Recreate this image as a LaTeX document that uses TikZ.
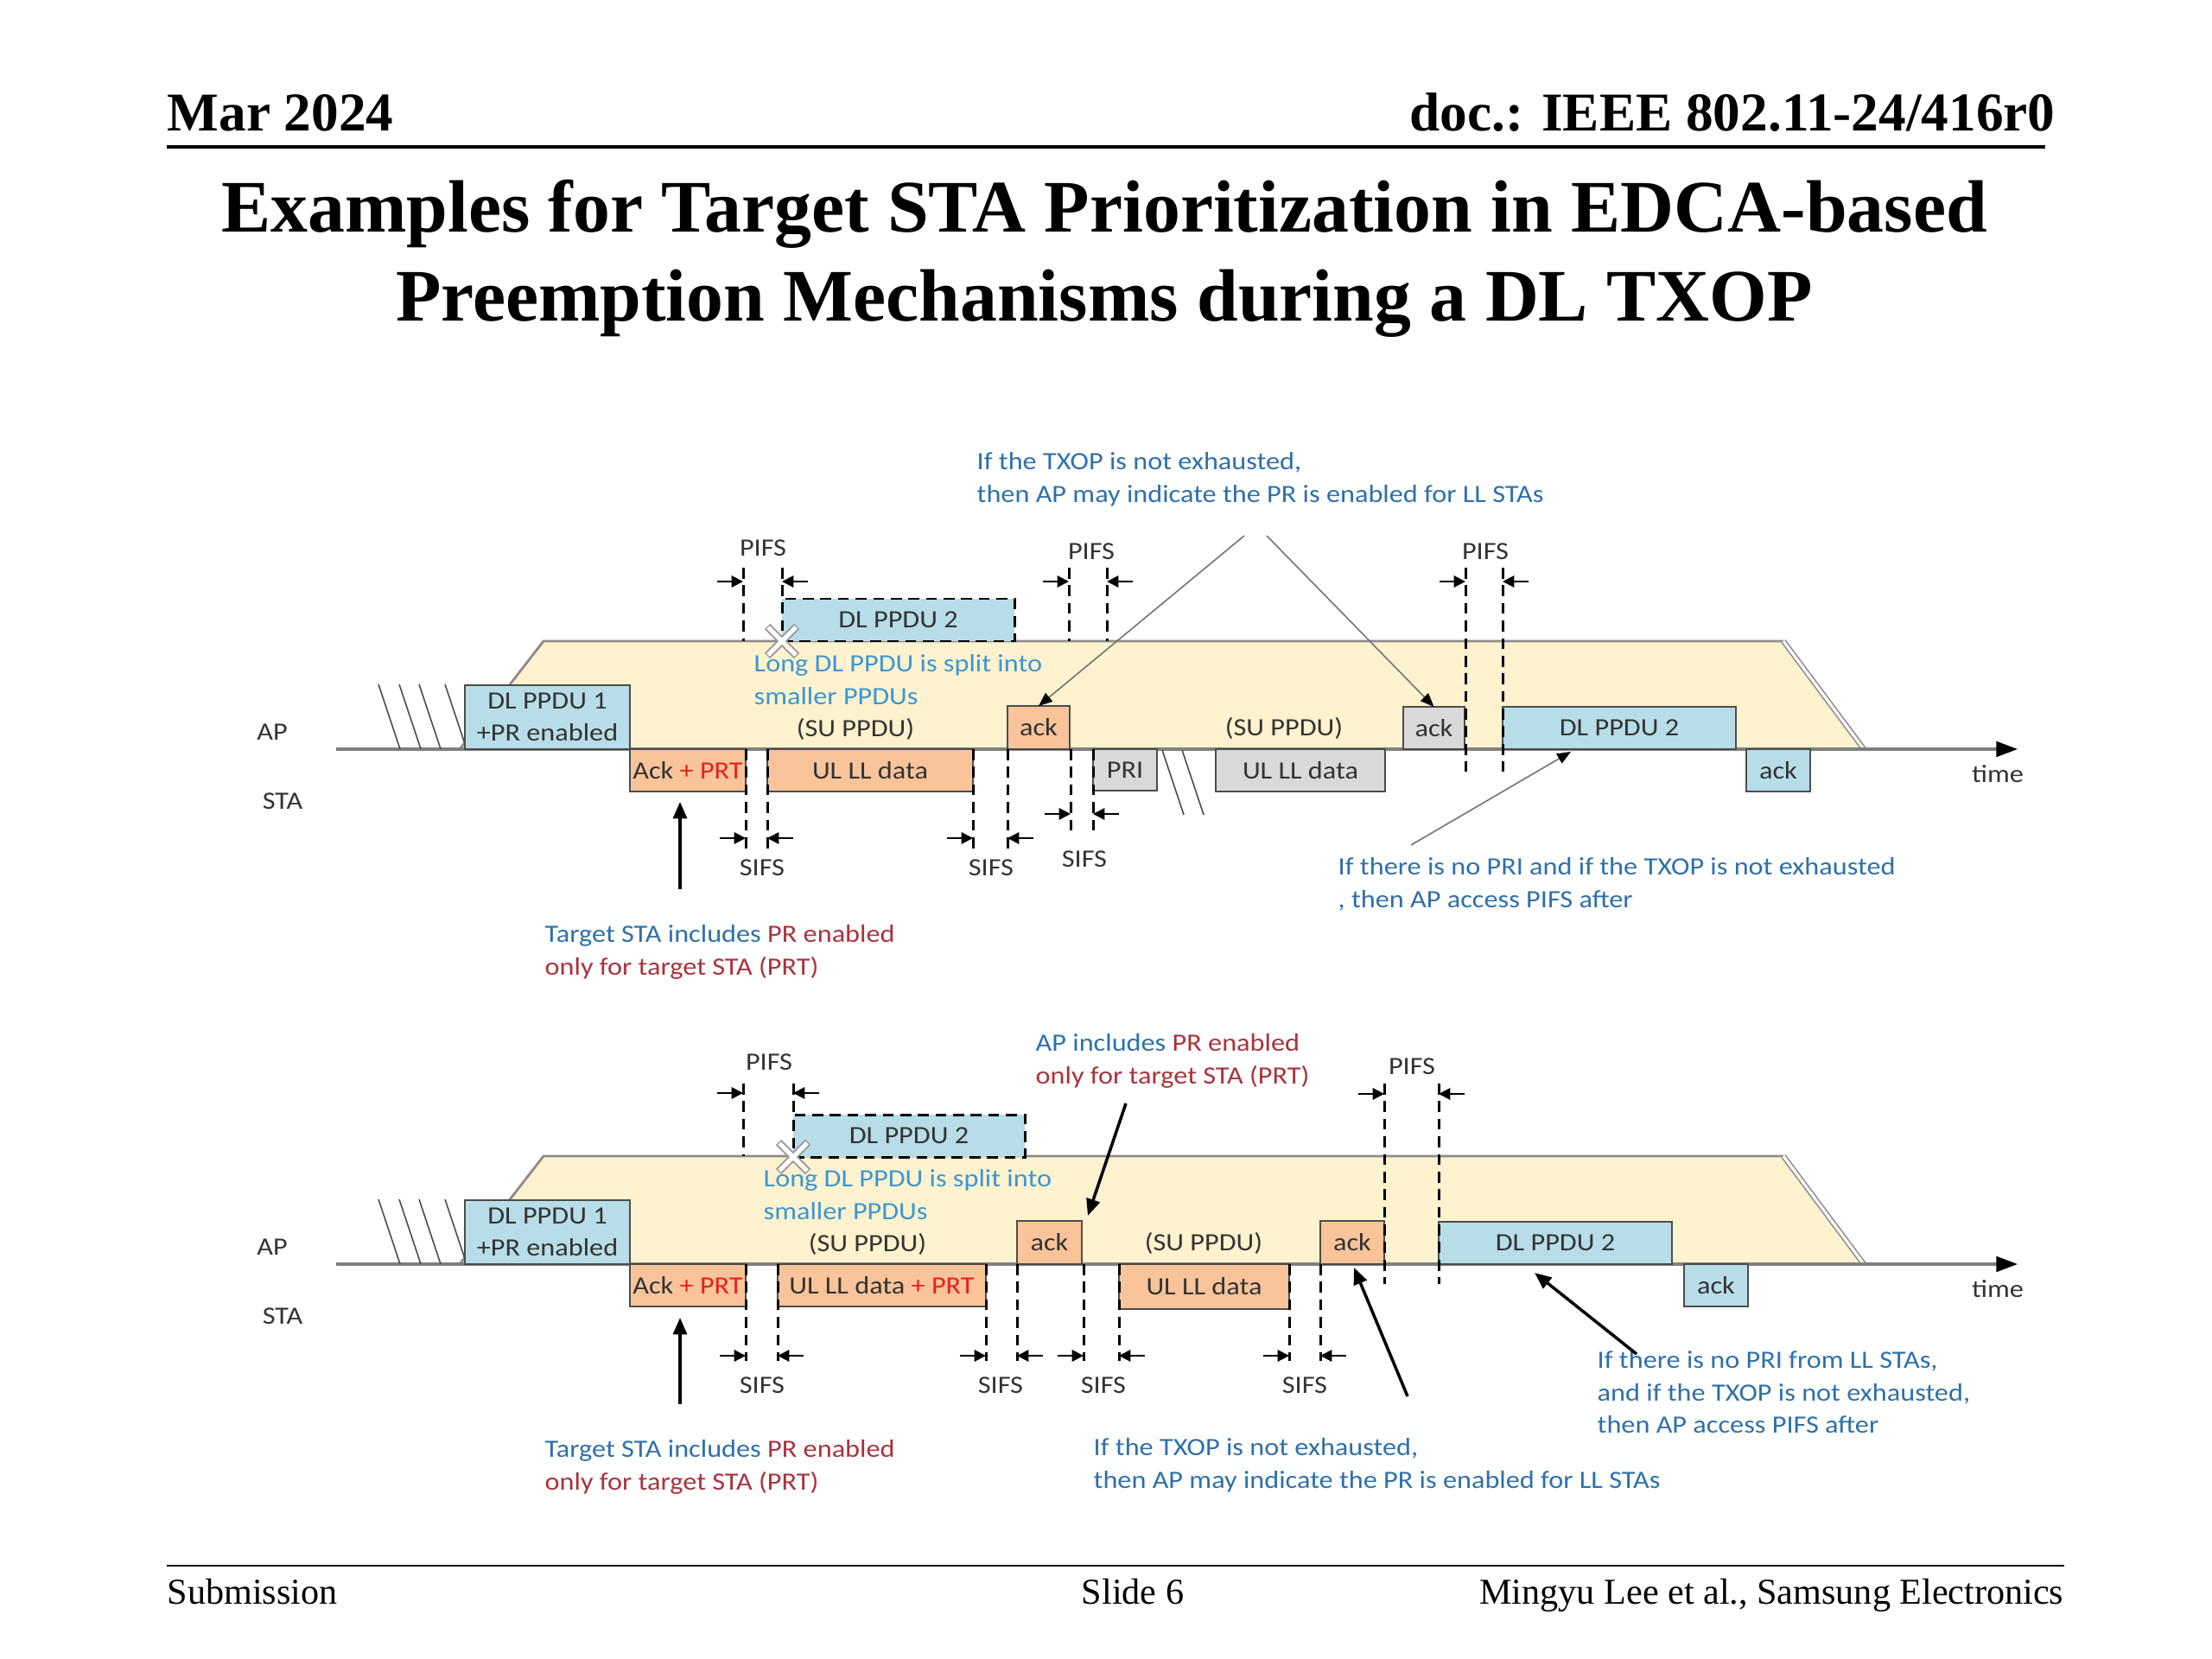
\documentclass[tikz,border=0pt]{standalone}
\usepackage{fontspec}
\setmainfont{Liberation Serif}
\newfontfamily\carlito[FakeStretch=1.12]{Carlito}
\usetikzlibrary{arrows.meta, positioning, calc}

\definecolor{boxblue}{RGB}{183,221,232}
\definecolor{boxorange}{RGB}{249,196,154}
\definecolor{boxgray}{RGB}{217,217,217}
\definecolor{txopyellow}{RGB}{255,242,206}
\definecolor{noteblue}{RGB}{46,112,170}
\definecolor{splitblue}{RGB}{60,150,210}
\definecolor{notered}{RGB}{170,50,60}
\definecolor{prtred}{RGB}{235,30,30}

\tikzset{
  lbl/.style={font=\carlito\fontsize{8.2}{10.7}\selectfont, text=black!80, inner sep=0pt},
  pkt/.style={lbl, draw=black!70, line width=0.5pt, outer sep=0pt, anchor=north west, align=center},
  dlpkt/.style={pkt, fill=boxblue},
  llpkt/.style={pkt, fill=boxorange},
  otherpkt/.style={pkt, fill=boxgray},
  guide/.style={dash pattern=on 3.6pt off 2.2pt, line width=0.85pt},
  gap/.style={-{Triangle[length=3.8pt,width=3.8pt]}, line width=0.6pt},
  note/.style={lbl, text=noteblue, align=left, anchor=north west},
  hatch/.style={black!70, line width=0.45pt},
  callout/.style={-{Triangle[length=4.5pt,width=3.6pt,black]}, black!55, line width=0.45pt},
  pointer/.style={-{Triangle[length=5.5pt,width=4.5pt]}, line width=1pt},
  txopline/.style={black!45, line width=0.8pt},
  txopedge/.style={black!45, line width=0.45pt, double=white, double distance=0.9pt},
  timeaxis/.style={black!50, line width=0.9pt, -{Triangle[length=7pt,width=5pt,black]}},
}

\begin{document}
\begin{tikzpicture}[y={(0,-1cm)}]
\fill[white] (0,0) rectangle (25.6,19.2);
\useasboundingbox (0,0) rectangle (25.6,19.2);

% slide header and footer
\node[anchor=base west, inner sep=0pt, font=\fontsize{18}{22}\selectfont\bfseries] (date) at (1.93,1.52) {Mar 2024};
\node[anchor=base east, inner sep=0pt, font=\fontsize{18}{22}\selectfont\bfseries] (docnum) at (23.79,1.52) {doc.: IEEE 802.11-24/416r0};
\draw[line width=1.2pt] (1.93,1.70) -- (23.67,1.70);
\node[anchor=base, inner sep=0pt, font=\fontsize{24.4}{29}\selectfont\bfseries] (title1) at (12.78,2.69) {Examples for Target STA Prioritization in EDCA-based};
\node[anchor=base, inner sep=0pt, font=\fontsize{24.4}{29}\selectfont\bfseries] (title2) at (12.78,3.72) {Preemption Mechanisms during a DL TXOP};
\draw[line width=0.6pt] (1.93,18.12) -- (23.89,18.12);
\node[anchor=base west, inner sep=0pt, font=\fontsize{12}{14}\selectfont] (sub) at (1.93,18.56) {Submission};
\node[anchor=base, inner sep=0pt, font=\fontsize{12}{14}\selectfont] (slide) at (13.11,18.56) {Slide 6};
\node[anchor=base east, inner sep=0pt, font=\fontsize{12}{14}\selectfont] (author) at (23.89,18.56) {Mingyu Lee et al., Samsung Electronics};

%%% upper example
\fill[txopyellow] (5.32,8.67) -- (6.29,7.42) -- (20.64,7.42) -- (21.57,8.67) -- cycle;
\draw[txopline] (5.32,8.67) -- (6.29,7.42) -- (20.64,7.42);
\draw[txopedge] (20.64,7.42) -- (21.57,8.67);
\draw[timeaxis] (3.89,8.67) -- (23.35,8.67);
\foreach \x in {4.38,4.62,4.85,5.15}
  \draw[hatch] (\x,7.92) -- ++(0.25,0.75);
\draw[hatch] (13.45,8.68) -- (13.70,9.43);
\draw[hatch] (13.68,8.68) -- (13.93,9.43);
%
\node[lbl, anchor=base] (apA) at (3.15,8.56) {AP};
\node[lbl, anchor=base] (staA) at (3.27,9.36) {STA};
\node[lbl, anchor=base] (timeA) at (23.12,9.05) {time};
%
\node[dlpkt, minimum width=1.91cm, minimum height=0.74cm] (dlA1) at (5.38,7.93) {DL PPDU 1\\+PR enabled};
\node[llpkt, minimum width=1.34cm, minimum height=0.49cm] (prtA) at (7.29,8.67) {Ack {\color{prtred}+ PRT}};
\node[llpkt, minimum width=2.38cm, minimum height=0.49cm] (ulA1) at (8.88,8.67) {UL LL data};
\node[llpkt, minimum width=0.72cm, minimum height=0.50cm] (ackA1) at (11.66,8.17) {ack};
\node[otherpkt, minimum width=0.74cm, minimum height=0.48cm] (priA) at (12.65,8.67) {PRI};
\node[otherpkt, minimum width=1.96cm, minimum height=0.49cm] (ulA2) at (14.07,8.67) {UL LL data};
\node[otherpkt, minimum width=0.71cm, minimum height=0.49cm] (ackA2) at (16.24,8.18) {ack};
\node[dlpkt, minimum width=2.70cm, minimum height=0.49cm] (dlA2) at (17.39,8.18) {DL PPDU 2};
\node[dlpkt, minimum width=0.74cm, minimum height=0.49cm] (ackA3) at (20.21,8.67) {ack};
\node[dlpkt, guide, draw=black, minimum width=2.69cm, minimum height=0.49cm] (cutA) at (9.05,6.93) {DL PPDU 2};
%
\coordinate (xA) at (9.05,7.42);
\draw[black!40, line width=2.6pt] ($(xA)+(-0.17,-0.17)$) -- ($(xA)+(0.17,0.17)$) ($(xA)+(-0.17,0.17)$) -- ($(xA)+(0.17,-0.17)$);
\draw[white, line width=1.5pt] ($(xA)+(-0.16,-0.16)$) -- ($(xA)+(0.16,0.16)$) ($(xA)+(-0.16,0.16)$) -- ($(xA)+(0.16,-0.16)$);
\node[lbl, text=splitblue, align=left, anchor=north west] (splitA) at (8.72,7.57) {Long DL PPDU is split into\\smaller PPDUs};
\node[lbl, anchor=base] (suA1) at (9.90,8.52) {(SU PPDU)};
\node[lbl, anchor=base] (suA2) at (14.86,8.51) {(SU PPDU)};
%
% PIFS
\draw[guide] (8.60,6.57) -- (8.60,7.42);
\draw[guide] (9.05,6.57) -- (9.05,6.93);
\draw[gap] (8.30,6.73) -- (8.60,6.73);
\draw[gap] (9.35,6.73) -- (9.05,6.73);
\node[lbl, anchor=base] (pifsA1) at (8.83,6.43) {PIFS};
\draw[guide] (12.37,6.57) -- (12.37,7.42);
\draw[guide] (12.81,6.57) -- (12.81,7.42);
\draw[gap] (12.07,6.73) -- (12.37,6.73);
\draw[gap] (13.11,6.73) -- (12.81,6.73);
\node[lbl, anchor=base] (pifsA2) at (12.63,6.47) {PIFS};
\draw[guide] (16.96,6.57) -- (16.96,8.93);
\draw[guide] (17.39,6.57) -- (17.39,8.93);
\draw[gap] (16.66,6.73) -- (16.96,6.73);
\draw[gap] (17.69,6.73) -- (17.39,6.73);
\node[lbl, anchor=base] (pifsA3) at (17.19,6.48) {PIFS};
% SIFS
\draw[guide] (8.63,8.67) -- (8.63,9.83);
\draw[guide] (8.88,8.67) -- (8.88,9.83);
\draw[gap] (8.33,9.70) -- (8.63,9.70);
\draw[gap] (9.18,9.70) -- (8.88,9.70);
\node[lbl, anchor=base] (sifsA1) at (8.82,10.13) {SIFS};
\draw[guide] (11.26,8.67) -- (11.26,9.83);
\draw[guide] (11.66,8.67) -- (11.66,9.83);
\draw[gap] (10.96,9.70) -- (11.26,9.70);
\draw[gap] (11.96,9.70) -- (11.66,9.70);
\node[lbl, anchor=base] (sifsA2) at (11.47,10.13) {SIFS};
\draw[guide] (12.39,8.67) -- (12.39,9.67);
\draw[guide] (12.65,8.67) -- (12.65,9.67);
\draw[gap] (12.09,9.42) -- (12.39,9.42);
\draw[gap] (12.95,9.42) -- (12.65,9.42);
\node[lbl, anchor=base] (sifsA3) at (12.55,10.03) {SIFS};
%
\node[note] (noteA1) at (11.30,5.23) {If the TXOP is not exhausted,\\then AP may indicate the PR is enabled for LL STAs};
\coordinate (cA1) at (14.40,6.20);
\coordinate (cA2) at (14.66,6.20);
\draw[callout] (cA1) -- (ackA1.north);
\draw[callout] (cA2) -- (ackA2.north);
\node[note] (noteA2) at (15.48,9.92) {If there is no PRI and if the TXOP is not exhausted\\, then AP access PIFS after};
\coordinate (cA3) at (16.33,9.78);
\coordinate (tA3) at (18.18,8.70);
\draw[callout] (cA3) -- (tA3);
\node[note, text=notered] (noteA3) at (6.30,10.70) {{\color{noteblue}Target STA includes} PR enabled\\only for target STA (PRT)};
\coordinate (pA) at (7.87,10.29);
\coordinate (tA) at (7.87,9.28);
\draw[pointer] (pA) -- (tA);

%%% lower example
\fill[txopyellow] (5.32,14.63) -- (6.29,13.38) -- (20.64,13.38) -- (21.57,14.63) -- cycle;
\draw[txopline] (5.32,14.63) -- (6.29,13.38) -- (20.64,13.38);
\draw[txopedge] (20.64,13.38) -- (21.57,14.63);
\draw[timeaxis] (3.89,14.63) -- (23.35,14.63);
\foreach \x in {4.38,4.62,4.85,5.15}
  \draw[hatch] (\x,13.88) -- ++(0.25,0.75);
%
\node[lbl, anchor=base] (apB) at (3.15,14.52) {AP};
\node[lbl, anchor=base] (staB) at (3.27,15.32) {STA};
\node[lbl, anchor=base] (timeB) at (23.12,15.01) {time};
%
\node[dlpkt, minimum width=1.91cm, minimum height=0.74cm] (dlB1) at (5.38,13.89) {DL PPDU 1\\+PR enabled};
\node[llpkt, minimum width=1.34cm, minimum height=0.49cm] (prtB) at (7.29,14.63) {Ack {\color{prtred}+ PRT}};
\node[llpkt, minimum width=2.41cm, minimum height=0.49cm] (ulB1) at (9.00,14.63) {UL LL data {\color{prtred}+ PRT}};
\node[llpkt, minimum width=0.75cm, minimum height=0.50cm] (ackB1) at (11.77,14.13) {ack};
\node[llpkt, minimum width=1.97cm, minimum height=0.52cm] (ulB2) at (12.95,14.63) {UL LL data};
\node[llpkt, minimum width=0.74cm, minimum height=0.50cm] (ackB2) at (15.28,14.13) {ack};
\node[dlpkt, minimum width=2.70cm, minimum height=0.49cm] (dlB2) at (16.65,14.14) {DL PPDU 2};
\node[dlpkt, minimum width=0.74cm, minimum height=0.49cm] (ackB3) at (19.49,14.63) {ack};
\node[dlpkt, guide, draw=black, minimum width=2.68cm, minimum height=0.49cm] (cutB) at (9.18,12.90) {DL PPDU 2};
%
\coordinate (xB) at (9.18,13.39);
\draw[black!40, line width=2.6pt] ($(xB)+(-0.17,-0.17)$) -- ($(xB)+(0.17,0.17)$) ($(xB)+(-0.17,0.17)$) -- ($(xB)+(0.17,-0.17)$);
\draw[white, line width=1.5pt] ($(xB)+(-0.16,-0.16)$) -- ($(xB)+(0.16,0.16)$) ($(xB)+(-0.16,0.16)$) -- ($(xB)+(0.16,-0.16)$);
\node[lbl, text=splitblue, align=left, anchor=north west] (splitB) at (8.83,13.53) {Long DL PPDU is split into\\smaller PPDUs};
\node[lbl, anchor=base] (suB1) at (10.04,14.48) {(SU PPDU)};
\node[lbl, anchor=base] (suB2) at (13.93,14.47) {(SU PPDU)};
%
% PIFS
\draw[guide] (8.60,12.54) -- (8.60,13.38);
\draw[guide] (9.18,12.54) -- (9.18,12.90);
\draw[gap] (8.30,12.65) -- (8.60,12.65);
\draw[gap] (9.48,12.65) -- (9.18,12.65);
\node[lbl, anchor=base] (pifsB1) at (8.90,12.38) {PIFS};
\draw[guide] (16.02,12.54) -- (16.02,14.86);
\draw[guide] (16.65,12.54) -- (16.65,14.86);
\draw[gap] (15.72,12.66) -- (16.02,12.66);
\draw[gap] (16.95,12.66) -- (16.65,12.66);
\node[lbl, anchor=base] (pifsB2) at (16.34,12.43) {PIFS};
% SIFS
\draw[guide] (8.63,14.63) -- (8.63,15.75);
\draw[guide] (9.00,14.63) -- (9.00,15.75);
\draw[gap] (8.33,15.69) -- (8.63,15.69);
\draw[gap] (9.30,15.69) -- (9.00,15.69);
\node[lbl, anchor=base] (sifsB1) at (8.82,16.12) {SIFS};
\draw[guide] (11.41,14.63) -- (11.41,15.75);
\draw[guide] (11.77,14.63) -- (11.77,15.75);
\draw[gap] (11.11,15.69) -- (11.41,15.69);
\draw[gap] (12.07,15.69) -- (11.77,15.69);
\node[lbl, anchor=base] (sifsB2) at (11.58,16.12) {SIFS};
\draw[guide] (12.54,14.63) -- (12.54,15.75);
\draw[guide] (12.95,14.63) -- (12.95,15.75);
\draw[gap] (12.24,15.69) -- (12.54,15.69);
\draw[gap] (13.25,15.69) -- (12.95,15.69);
\node[lbl, anchor=base] (sifsB3) at (12.77,16.12) {SIFS};
\draw[guide] (14.92,14.63) -- (14.92,15.75);
\draw[guide] (15.28,14.63) -- (15.28,15.75);
\draw[gap] (14.62,15.69) -- (14.92,15.69);
\draw[gap] (15.58,15.69) -- (15.28,15.69);
\node[lbl, anchor=base] (sifsB4) at (15.10,16.12) {SIFS};
%
\node[note, text=notered] (noteB1) at (11.98,11.96) {{\color{noteblue}AP includes} PR enabled\\only for target STA (PRT)};
\coordinate (pB1) at (13.03,12.77);
\coordinate (tB1) at (12.59,14.07);
\draw[pointer] (pB1) -- (tB1);
\node[note, text=notered] (noteB2) at (6.30,16.66) {{\color{noteblue}Target STA includes} PR enabled\\only for target STA (PRT)};
\coordinate (pB2) at (7.87,16.25);
\coordinate (tB2) at (7.87,15.25);
\draw[pointer] (pB2) -- (tB2);
\node[note] (noteB3) at (12.65,16.64) {If the TXOP is not exhausted,\\then AP may indicate the PR is enabled for LL STAs};
\coordinate (pB3) at (16.29,16.16);
\coordinate (tB3) at (15.67,14.67);
\draw[pointer] (pB3) -- (tB3);
\node[note] (noteB4) at (18.48,15.63) {If there is no PRI from LL STAs,\\and if the TXOP is not exhausted,\\then AP access PIFS after};
\coordinate (pB4) at (18.94,15.67);
\coordinate (tB4) at (17.76,14.73);
\draw[pointer] (pB4) -- (tB4);
\end{tikzpicture}
\end{document}
